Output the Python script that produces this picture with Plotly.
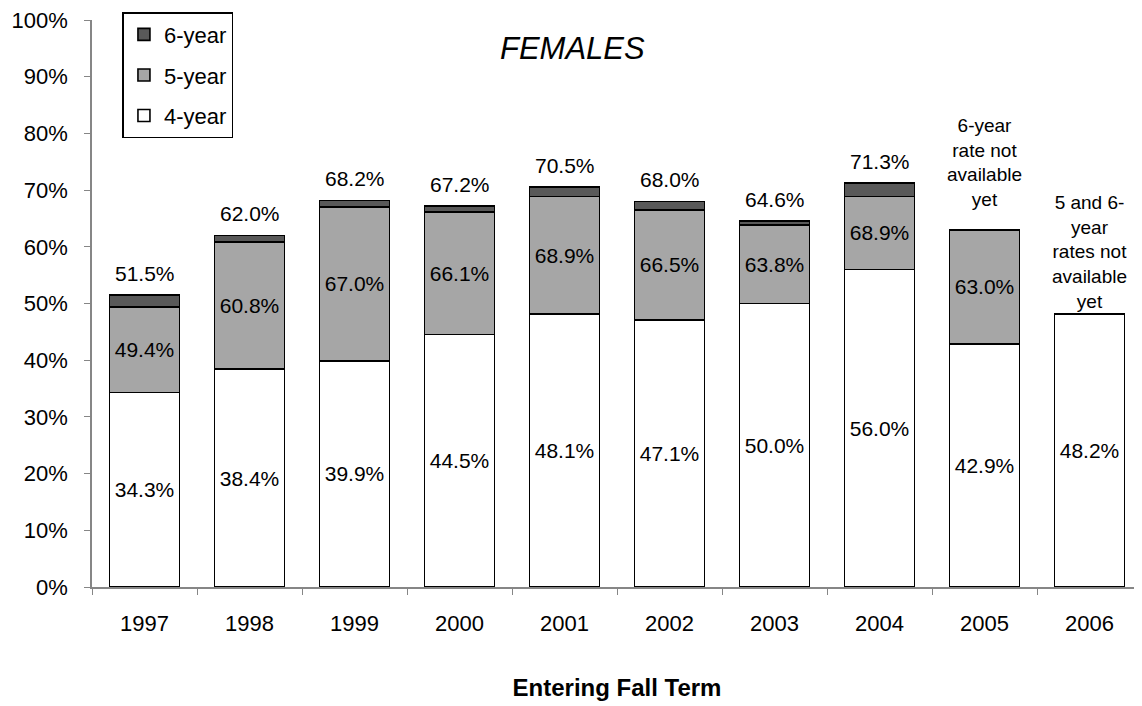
import numpy as np
import plotly.graph_objects as go

years = ["1997", "1998", "1999", "2000", "2001", "2002", "2003", "2004", "2005", "2006"]
rate_4yr = [34.3, 38.4, 39.9, 44.5, 48.1, 47.1, 50.0, 56.0, 42.9, 48.2]
rate_5yr = [49.4, 60.8, 67.0, 66.1, 68.9, 66.5, 63.8, 68.9, 63.0, None]
rate_6yr = [51.5, 62.0, 68.2, 67.2, 70.5, 68.0, 64.6, 71.3, None, None]

r4 = np.array(rate_4yr, dtype=float)
r5 = np.array([np.nan if v is None else v for v in rate_5yr])
r6 = np.array([np.nan if v is None else v for v in rate_6yr])
inc5 = (r5 - r4).tolist()
inc6 = (r6 - r5).tolist()

FONT = "Liberation Sans, Arial, sans-serif"
line = dict(color="black", width=1.6)

fig = go.Figure()
fig.add_trace(go.Bar(
    x=years, y=rate_4yr, name="4-year", legendgroup="a", legendrank=3,
    marker=dict(color="white", line=line),
    text=[f"{v:.1f}%" for v in rate_4yr],
    textposition="inside", insidetextanchor="middle", textangle=0,
    textfont=dict(size=21, color="black", family=FONT),
))
fig.add_trace(go.Bar(
    x=years, y=inc5, name="5-year", legendgroup="b", legendrank=2,
    marker=dict(color="#a6a6a6", line=line),
    text=["" if v is None else f"{v:.1f}%" for v in rate_5yr],
    textposition="inside", insidetextanchor="middle", textangle=0,
    textfont=dict(size=21, color="black", family=FONT),
))
fig.add_trace(go.Bar(
    x=years, y=inc6, name="6-year", legendgroup="c", legendrank=1,
    marker=dict(color="#595959", line=line),
))

# annotations on a category axis: use the category index
for i, v in enumerate(rate_6yr):
    if v is not None:
        fig.add_annotation(x=i, y=v, text=f"{v:.1f}%", showarrow=False,
                           yanchor="bottom", yshift=8,
                           font=dict(size=21, color="black", family=FONT))

fig.add_annotation(x=years.index("2005"), y=rate_5yr[8],
                   text="6-year<br>rate not<br>available<br>yet",
                   showarrow=False, yanchor="bottom", yshift=18,
                   font=dict(size=19, color="black", family=FONT))
fig.add_annotation(x=years.index("2006"), y=rate_4yr[9],
                   text="5 and 6-<br>year<br>rates not<br>available<br>yet",
                   showarrow=False, yanchor="bottom", yshift=0,
                   font=dict(size=19, color="black", family=FONT))
fig.add_annotation(xref="paper", yref="paper", x=0.458, y=0.95, yanchor="middle",
                   text="<i>FEMALES</i>",
                   showarrow=False, font=dict(size=31, color="black", family=FONT))

# page body has an 8px margin, so the figure is 8px smaller than the window
fig.update_layout(
    width=1134, height=698,
    margin=dict(l=84, r=0, t=12, b=119),
    paper_bgcolor="white", plot_bgcolor="white",
    barmode="stack", bargap=0.333,
    font=dict(family=FONT, size=22, color="black"),
    showlegend=True,
    legend=dict(x=0.029, y=1.014, xanchor="left", yanchor="top",
                traceorder="grouped", tracegroupgap=9,
                bordercolor="black", borderwidth=1.5, bgcolor="white",
                font=dict(size=22, family=FONT), itemwidth=30),
    xaxis=dict(
        type="category", range=[-0.5, 9.5], automargin=False,
        showline=True, linecolor="#868686", linewidth=1.5,
        ticks="outside", tickson="boundaries", ticklen=6, tickcolor="#868686",
        ticklabelstandoff=16,
        showgrid=False, zeroline=False,
        tickfont=dict(size=22, family=FONT),
        title=dict(text="<b>Entering Fall Term</b>", font=dict(size=24, family=FONT), standoff=44),
    ),
    yaxis=dict(
        range=[0, 100], dtick=10, ticksuffix="%", automargin=False,
        ticklabeloverflow="allow",
        showline=True, linecolor="#868686", linewidth=1.5,
        ticks="outside", ticklen=6, tickcolor="#868686",
        ticklabelstandoff=12,
        showgrid=False, zeroline=False,
        tickfont=dict(size=22, family=FONT),
    ),
)

fig.write_html("out.html")
